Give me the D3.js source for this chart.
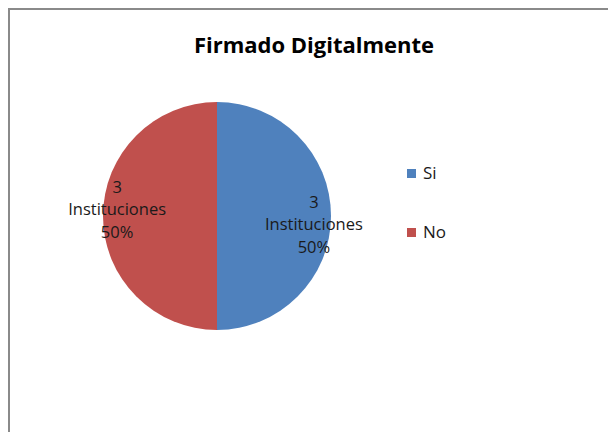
<!DOCTYPE html>
<html>
<head>
<meta charset="utf-8">
<script src="https://cdn.jsdelivr.net/npm/d3@7"></script>
<style>
  body { margin: 0; background: #fff; }
  svg { display: block; font-family: "Open Sans", "Noto Sans", sans-serif; }
</style>
</head>
<body>
<div id="wrapper"></div>
<script>
// data
const categories = ["Si", "No"];
const values = [3, 3];
const unitLabel = "Instituciones";
const colors = ["#4F81BD", "#C0504D"];
const title = "Firmado Digitalmente";

const width = 608, height = 432;
const cx = 217, cy = 216, radius = 114;

const svg = d3.select("#wrapper").append("svg")
    .attr("width", width)
    .attr("height", height);

// chart frame (runs off right and bottom edge)
svg.append("rect")
    .attr("x", 9).attr("y", 9)
    .attr("width", 620).attr("height", 440)
    .attr("fill", "#fff")
    .attr("stroke", "#8a8a8a")
    .attr("stroke-width", 2);

svg.append("text")
    .attr("x", 314).attr("y", 53)
    .attr("text-anchor", "middle")
    .attr("font-weight", "bold")
    .attr("font-size", 22)
    .attr("fill", "#000")
    .text(title);

const data = categories.map((c, i) => ({cat: c, value: values[i]}));
const total = d3.sum(values);

const pie = d3.pie().sort(null).value(d => d.value);
const arc = d3.arc().innerRadius(0).outerRadius(radius);
const labelArc = d3.arc().innerRadius(radius * 0.85).outerRadius(radius * 0.85);
const color = d3.scaleOrdinal().domain(categories).range(colors);

const g = svg.append("g").attr("transform", `translate(${cx},${cy})`);
const arcs = pie(data);

g.selectAll("path")
    .data(arcs)
    .enter()
    .append("path")
    .attr("d", arc)
    .attr("fill", d => color(d.data.cat));

const labels = g.selectAll("text.lbl")
    .data(arcs)
    .enter()
    .append("text")
    .attr("class", "lbl")
    .attr("text-anchor", "middle")
    .attr("font-size", 16.5)
    .attr("fill", "#1a1a1a")
    .attr("transform", d => {
        const [x, y] = labelArc.centroid(d);
        // excel best-fit nudges the labels a bit
        const dx = x > 0 ? 0 : -3;
        const dy = x > 0 ? 14 : -1;
        return `translate(${x + dx},${y + dy})`;
    });

labels.each(function(d) {
    const t = d3.select(this);
    const lines = [d.data.value, unitLabel, d3.format(".0%")(d.data.value / total)];
    lines.forEach((l, i) => {
        t.append("tspan")
            .attr("x", 0)
            .attr("y", (i - 1) * 22.5)
            .text(l);
    });
});

// legend
const legend = svg.append("g").attr("transform", "translate(407,173)");
const items = legend.selectAll("g")
    .data(categories)
    .enter()
    .append("g")
    .attr("transform", (d, i) => `translate(0,${i * 59})`);

items.append("rect")
    .attr("x", 0).attr("y", -4)
    .attr("width", 9).attr("height", 9)
    .attr("fill", d => color(d));

items.append("text")
    .attr("x", 16).attr("y", 6)
    .attr("font-size", 17)
    .attr("fill", "#1a1a1a")
    .text(d => d);
</script>
</body>
</html>
